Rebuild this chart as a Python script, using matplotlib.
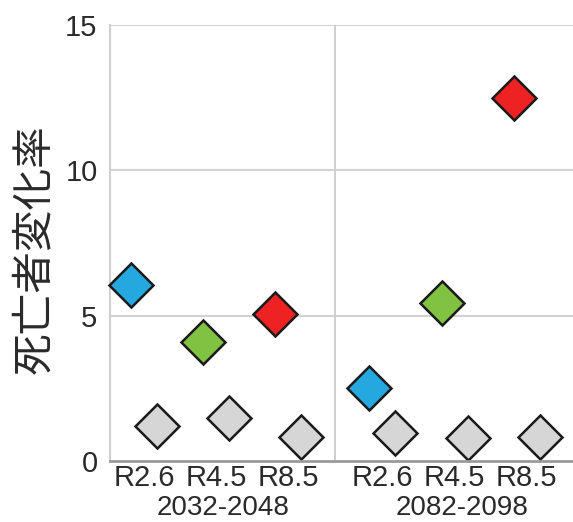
import matplotlib
matplotlib.use("Agg")
import matplotlib.pyplot as plt
import matplotlib.transforms as mtransforms
import numpy as np

periods = ["2032-2048", "2082-2098"]
scenarios = ["R2.6", "R4.5", "R8.5"]
colored_values = [[6.05, 4.1, 5.06], [2.5, 5.45, 12.48]]
gray_values = [[1.21, 1.47, 0.84], [0.96, 0.79, 0.81]]
scenario_colors = ["#25a8e0", "#80c342", "#ee2222"]
gray_color = "#d6d6d6"
y_ticks = [0, 5, 10, 15]
y_label = "死亡者変化率"

plt.rcParams['font.family'] = ['Liberation Sans', 'DejaVu Sans']

fig = plt.figure(figsize=(5.73, 5.22), dpi=100)
ax = fig.add_axes([0.192, 0.117, 0.808, 0.835])

group_gap = 3.3
offset = 0.18
ms = 22
mew = 1.8
edge = "#1a1a1a"
txt_color = "#2a2a2a"

tick_pos = []
tick_lab = []
for g, period in enumerate(periods):
    base = g * group_gap
    for i, sc in enumerate(scenarios):
        x = base + i
        tick_pos.append(x)
        tick_lab.append(sc)
        ax.plot(x + offset, gray_values[g][i], marker='D', ms=ms, mew=mew,
                mfc=gray_color, mec=edge, ls='none', zorder=3, clip_on=False)
        ax.plot(x - offset, colored_values[g][i], marker='D', ms=ms, mew=mew,
                mfc=scenario_colors[i], mec=edge, ls='none', zorder=4, clip_on=False)

ax.set_ylim(0, 15)
ax.set_xlim(-0.47, 5.94)
ax.set_yticks(y_ticks)
ax.set_yticklabels([str(v) for v in y_ticks])
ax.set_xticks(tick_pos)
ax.set_xticklabels(tick_lab)
ax.tick_params(axis='both', length=0, labelsize=21, colors=txt_color)
ax.tick_params(axis='y', pad=9)
ax.tick_params(axis='x', pad=2)

for y in y_ticks[1:]:
    ax.axhline(y, color='#d2d2d2', lw=1.5, zorder=1)
ax.axvline((2 + group_gap) / 2, color='#cccccc', lw=1.3, zorder=1)

for s in ['top', 'right']:
    ax.spines[s].set_visible(False)
ax.spines['left'].set_color('#d0d0d0')
ax.spines['left'].set_linewidth(1.5)
ax.spines['bottom'].set_color('#9a9a9a')
ax.spines['bottom'].set_linewidth(2)
ax.spines['bottom'].set_zorder(5)

trans = mtransforms.blended_transform_factory(ax.transData, ax.transAxes)
for g, period in enumerate(periods):
    ax.text(g * group_gap + 1.1, -0.108, period, transform=trans, ha='center', va='center',
            fontsize=20, color=txt_color)

fig.text(0.061, 0.523, y_label, rotation=90, ha='center', va='center', fontsize=30,
         color=txt_color, family=['Noto Sans CJK JP', 'DejaVu Sans'])

fig.savefig("out.png", dpi=100)
